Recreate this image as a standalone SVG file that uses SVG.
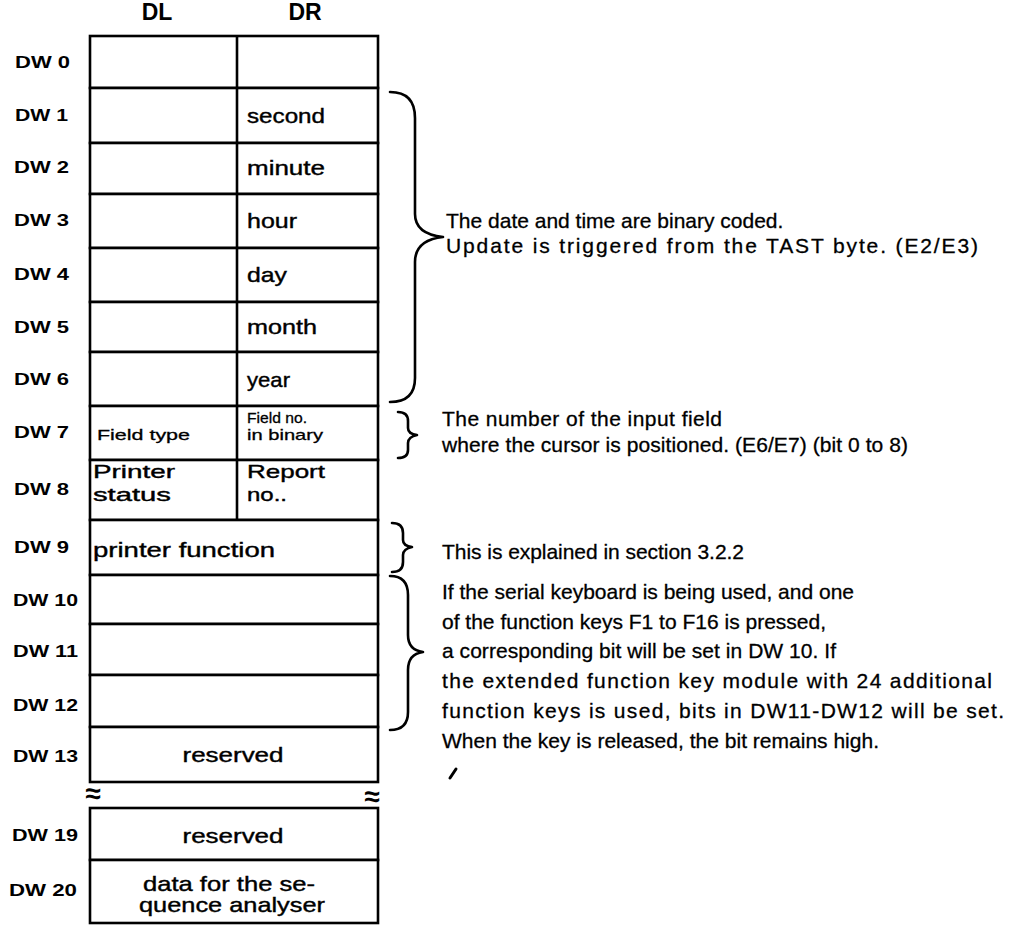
<svg xmlns="http://www.w3.org/2000/svg" width="1022" height="926" viewBox="0 0 1022 926">
<style>
.cell{fill:#fff;stroke:#000;stroke-width:2.6}
.line{stroke:#000;stroke-width:2.6;fill:none}
.brace{stroke:#000;stroke-width:2.6;fill:none;stroke-linecap:round;stroke-linejoin:round}
.lbl{font-family:"Liberation Sans",Arial,sans-serif;font-size:17px;font-weight:bold;fill:#000}
.hdr{font-family:"Liberation Sans",Arial,sans-serif;font-size:23px;font-weight:bold;fill:#000;text-anchor:middle}
.brk{font-family:"Liberation Sans",Arial,sans-serif;font-size:28px;font-weight:bold;fill:#000;text-anchor:middle}
.t{font-family:"Liberation Sans",Arial,sans-serif;font-size:21px;fill:#000;stroke:#000;stroke-width:0.4}
.t19{font-family:"Liberation Sans",Arial,sans-serif;font-size:19px;fill:#000;stroke:#000;stroke-width:0.4}
.ts{font-family:"Liberation Sans",Arial,sans-serif;font-size:15px;fill:#000;stroke:#000;stroke-width:0.3}
.tc{font-family:"Liberation Sans",Arial,sans-serif;font-size:21px;fill:#000;stroke:#000;stroke-width:0.4;text-anchor:middle}
.r{font-family:"Liberation Sans",Arial,sans-serif;font-size:21px;fill:#000;stroke:#000;stroke-width:0.3}
</style>
<rect width="1022" height="926" fill="#fff"/>
<g id="headers">
<text class="hdr" x="157" y="20">DL</text>
<text class="hdr" x="305" y="20">DR</text>
</g>
<g id="dw0"><rect class="cell" x="90" y="36" width="288" height="52"/><line class="line" x1="237" y1="36" x2="237" y2="88"/><text class="lbl" x="15" y="68" textLength="55" lengthAdjust="spacingAndGlyphs">DW 0</text></g>
<g id="dw1"><rect class="cell" x="90" y="88" width="288" height="55"/><line class="line" x1="237" y1="88" x2="237" y2="143"/><text class="lbl" x="15" y="121" textLength="53" lengthAdjust="spacingAndGlyphs">DW 1</text><text class="t" x="247" y="123" textLength="78" lengthAdjust="spacingAndGlyphs">second</text></g>
<g id="dw2"><rect class="cell" x="90" y="143" width="288" height="51"/><line class="line" x1="237" y1="143" x2="237" y2="194"/><text class="lbl" x="14" y="173" textLength="55" lengthAdjust="spacingAndGlyphs">DW 2</text><text class="t" x="247" y="175" textLength="78" lengthAdjust="spacingAndGlyphs">minute</text></g>
<g id="dw3"><rect class="cell" x="90" y="194" width="288" height="54"/><line class="line" x1="237" y1="194" x2="237" y2="248"/><text class="lbl" x="14" y="226" textLength="55" lengthAdjust="spacingAndGlyphs">DW 3</text><text class="t" x="247" y="228" textLength="50" lengthAdjust="spacingAndGlyphs">hour</text></g>
<g id="dw4"><rect class="cell" x="90" y="248" width="288" height="54"/><line class="line" x1="237" y1="248" x2="237" y2="302"/><text class="lbl" x="14" y="280" textLength="55" lengthAdjust="spacingAndGlyphs">DW 4</text><text class="t" x="247" y="282" textLength="40" lengthAdjust="spacingAndGlyphs">day</text></g>
<g id="dw5"><rect class="cell" x="90" y="302" width="288" height="50"/><line class="line" x1="237" y1="302" x2="237" y2="352"/><text class="lbl" x="14" y="333" textLength="55" lengthAdjust="spacingAndGlyphs">DW 5</text><text class="t" x="247" y="334" textLength="70" lengthAdjust="spacingAndGlyphs">month</text></g>
<g id="dw6"><rect class="cell" x="90" y="352" width="288" height="54"/><line class="line" x1="237" y1="352" x2="237" y2="406"/><text class="lbl" x="14" y="385" textLength="55" lengthAdjust="spacingAndGlyphs">DW 6</text><text class="t" x="247" y="387" textLength="43" lengthAdjust="spacingAndGlyphs">year</text></g>
<g id="dw7"><rect class="cell" x="90" y="406" width="288" height="54"/><line class="line" x1="237" y1="406" x2="237" y2="460"/><text class="lbl" x="14" y="438" textLength="55" lengthAdjust="spacingAndGlyphs">DW 7</text><text class="ts" x="97" y="440" textLength="93" lengthAdjust="spacingAndGlyphs">Field type</text><text class="ts" x="247" y="423" textLength="60" lengthAdjust="spacingAndGlyphs">Field no.</text><text class="ts" x="247" y="440" textLength="76" lengthAdjust="spacingAndGlyphs">in binary</text></g>
<g id="dw8"><rect class="cell" x="90" y="460" width="288" height="60"/><line class="line" x1="237" y1="460" x2="237" y2="520"/><text class="lbl" x="14" y="495" textLength="55" lengthAdjust="spacingAndGlyphs">DW 8</text><text class="t19" x="93" y="478" textLength="82" lengthAdjust="spacingAndGlyphs">Printer</text><text class="t19" x="93" y="501" textLength="78" lengthAdjust="spacingAndGlyphs">status</text><text class="t19" x="247" y="478" textLength="78" lengthAdjust="spacingAndGlyphs">Report</text><text class="t19" x="247" y="501" textLength="40" lengthAdjust="spacingAndGlyphs">no..</text></g>
<g id="dw9"><rect class="cell" x="90" y="520" width="288" height="55"/><text class="lbl" x="14" y="553" textLength="55" lengthAdjust="spacingAndGlyphs">DW 9</text><text class="t" x="93" y="557" textLength="182" lengthAdjust="spacingAndGlyphs">printer function</text></g>
<g id="dw10"><rect class="cell" x="90" y="575" width="288" height="49"/><text class="lbl" x="13" y="606" textLength="65" lengthAdjust="spacingAndGlyphs">DW 10</text></g>
<g id="dw11"><rect class="cell" x="90" y="624" width="288" height="51"/><text class="lbl" x="13" y="657" textLength="65" lengthAdjust="spacingAndGlyphs">DW 11</text></g>
<g id="dw12"><rect class="cell" x="90" y="675" width="288" height="52"/><text class="lbl" x="13" y="711" textLength="65" lengthAdjust="spacingAndGlyphs">DW 12</text></g>
<g id="dw13"><rect class="cell" x="90" y="727" width="288" height="55"/><text class="lbl" x="13" y="762" textLength="65" lengthAdjust="spacingAndGlyphs">DW 13</text><text class="tc" x="233" y="762" textLength="101" lengthAdjust="spacingAndGlyphs">reserved</text></g>
<g id="breaks"><text class="brk" x="93" y="803">≈</text><text class="brk" x="372" y="806">≈</text></g>
<g id="dw19"><rect class="cell" x="90" y="808" width="288" height="52"/><text class="lbl" x="12" y="841" textLength="66" lengthAdjust="spacingAndGlyphs">DW 19</text><text class="tc" x="233" y="843" textLength="101" lengthAdjust="spacingAndGlyphs">reserved</text></g>
<g id="dw20"><rect class="cell" x="90" y="860" width="288" height="63"/><text class="lbl" x="9" y="896" textLength="68" lengthAdjust="spacingAndGlyphs">DW 20</text><text class="tc" x="229" y="891" textLength="172" lengthAdjust="spacingAndGlyphs">data for the se-</text><text class="tc" x="232" y="912" textLength="186" lengthAdjust="spacingAndGlyphs">quence analyser</text></g>
<g id="connectors">
<path class="brace" d="M390 92 Q415 92 415 118 L415 214 Q415 234 443 237 Q415 240 415 262 L415 378 Q415 402 390 402"/>
<path class="brace" d="M398 412 Q408 412 408 421 L408 428 Q408 434 417 435 Q408 437 408 443 L408 450 Q408 458 398 458"/>
<path class="brace" d="M392 523 Q403 523 403 533 L403 540 Q403 546 412 547 Q403 549 403 555 L403 562 Q403 572 392 572"/>
<path class="brace" d="M390 576 Q408 576 408 595 L408 635 Q408 650 423 652 Q408 654 408 670 L408 712 Q408 730 390 730"/>
</g>
<g id="notes">
<text class="r" x="446" y="228">The date and time are binary coded.</text>
<text class="r" x="446" y="253" textLength="532" lengthAdjust="spacing">Update is triggered from the TAST byte. (E2/E3)</text>
<text class="r" x="442" y="426" textLength="280" lengthAdjust="spacing">The number of the input field</text>
<text class="r" x="442" y="452" textLength="466" lengthAdjust="spacing">where the cursor is positioned. (E6/E7) (bit 0 to 8)</text>
<text class="r" x="442" y="559" textLength="302" lengthAdjust="spacing">This is explained in section 3.2.2</text>
<text class="r" x="442" y="599" textLength="412" lengthAdjust="spacing">If the serial keyboard is being used, and one</text>
<text class="r" x="442" y="629" textLength="384" lengthAdjust="spacing">of the function keys F1 to F16 is pressed,</text>
<text class="r" x="442" y="658" textLength="394" lengthAdjust="spacing">a corresponding bit will be set in DW 10. If</text>
<text class="r" x="442" y="688" textLength="550" lengthAdjust="spacing">the extended function key module with 24 additional</text>
<text class="r" x="442" y="718" textLength="562" lengthAdjust="spacing">function keys is used, bits in DW11-DW12 will be set.</text>
<text class="r" x="442" y="748" textLength="437" lengthAdjust="spacing">When the key is released, the bit remains high.</text>
<path d="M450 778 L456 769" stroke="#000" stroke-width="3" stroke-linecap="round"/>
</g>
</svg>
